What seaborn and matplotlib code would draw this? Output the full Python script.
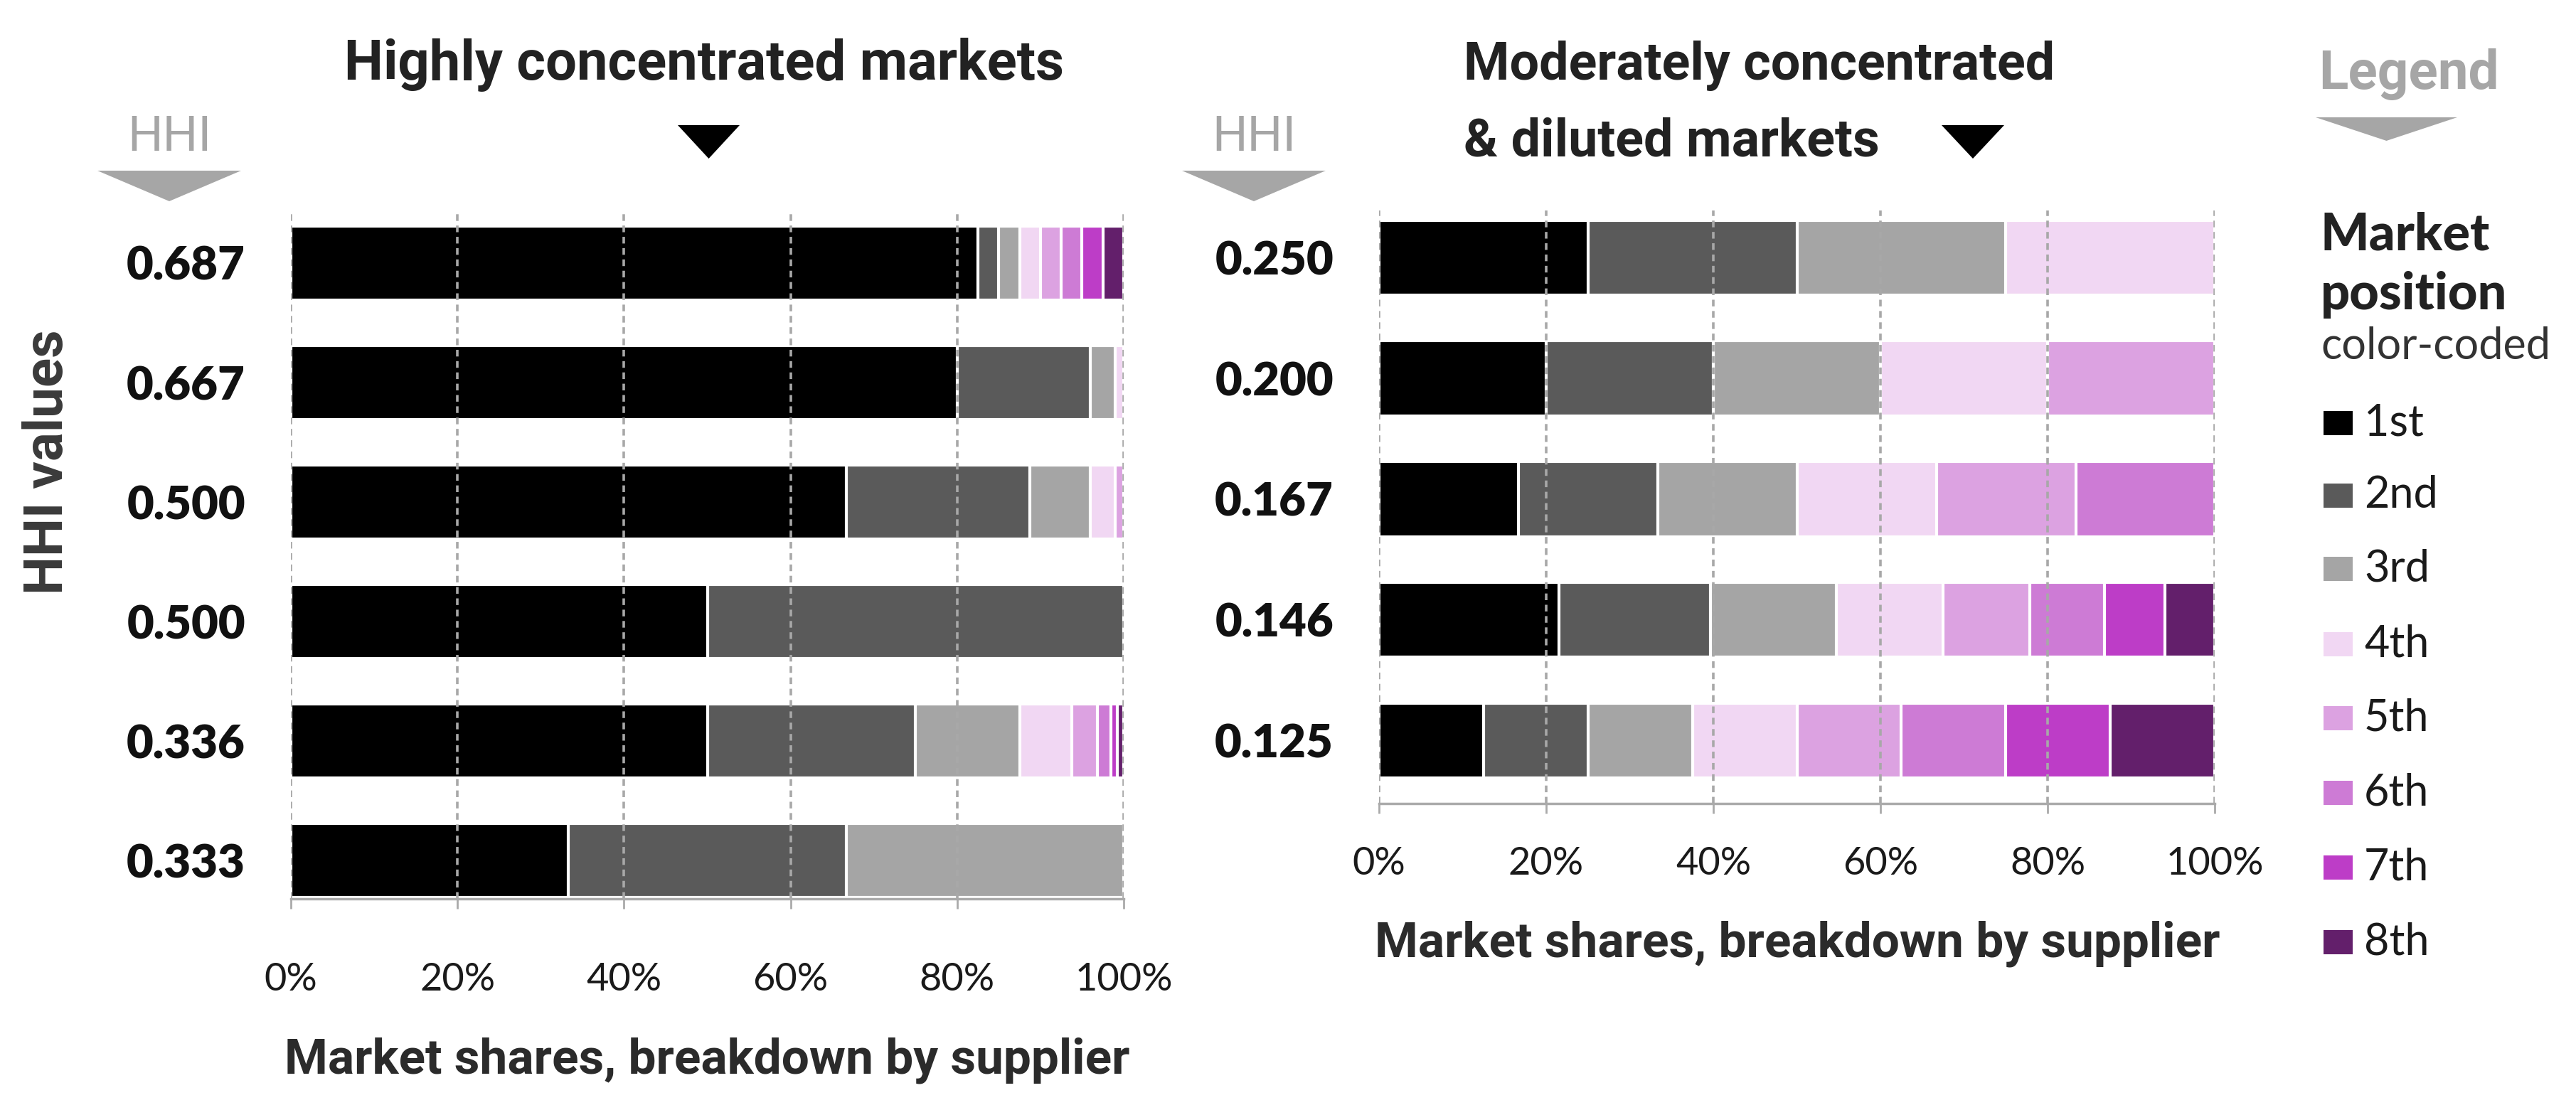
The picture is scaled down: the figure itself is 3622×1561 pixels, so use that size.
import numpy as np
import pandas as pd
import matplotlib
matplotlib.use("Agg")
import matplotlib.pyplot as plt
from matplotlib.patches import Polygon, Rectangle
import seaborn as sns

# ---------------- data ----------------
positions = ["1st", "2nd", "3rd", "4th", "5th", "6th", "7th", "8th"]
position_colors = ["#000000", "#5a5a5a", "#a5a5a5", "#f1d7f3",
                   "#dca2e1", "#cd7bd5", "#bd3dc7", "#631f6b"]

left_hhi = ["0.687", "0.667", "0.500", "0.500", "0.336", "0.333"]
left_row1 = [82.5, 2.5, 2.5, 2.5, 2.5, 2.5, 2.5, 2.5]
left_row2 = [80.0, 16.0, 3.0, 1.0, 0, 0, 0, 0]
left_row3 = [66.7, 22.0, 7.3, 3.0, 1.0, 0, 0, 0]
left_row4 = [50.0, 50.0, 0, 0, 0, 0, 0, 0]
left_row5 = [50.0, 25.0, 12.5, 6.25, 3.1, 1.6, 0.8, 0.75]
left_row6 = [33.3, 33.4, 33.3, 0, 0, 0, 0, 0]

right_hhi = ["0.250", "0.200", "0.167", "0.146", "0.125"]
right_row1 = [25.0, 25.0, 25.0, 25.0, 0, 0, 0, 0]
right_row2 = [20.0, 20.0, 20.0, 20.0, 20.0, 0, 0, 0]
right_row3 = [16.7, 16.7, 16.6, 16.7, 16.7, 16.6, 0, 0]
right_row4 = [21.5, 18.2, 15.0, 12.8, 10.4, 8.9, 7.2, 6.0]
right_row5 = [12.5, 12.5, 12.5, 12.5, 12.5, 12.5, 12.5, 12.5]

x_ticks = [0, 20, 40, 60, 80, 100]
x_ticklabels = ["0%", "20%", "40%", "60%", "80%", "100%"]

# ---------------- style ----------------
sns.set_theme(style="white")
plt.rcParams["font.family"] = ["Lato", "DejaVu Sans"]
COND = ["Roboto", "DejaVu Sans"]

W, H = 3622, 1561
fig = plt.figure(figsize=(W / 100, H / 100), dpi=100)
fig.patch.set_facecolor("white")


def fx(px):
    return px / W


def fy(py):
    return 1 - py / H


def draw_panel(ax, hhi, rows, ylim, label_pad):
    arr = np.array(rows, dtype=float)
    cum = arr.cumsum(axis=1)
    ids = [f"r{i}" for i in range(len(hhi))]
    for k in range(len(positions) - 1, -1, -1):
        df = pd.DataFrame({"row": ids, "share": cum[:, k]})
        sns.barplot(data=df, x="share", y="row", order=ids, orient="h",
                    color=position_colors[k], saturation=1, width=0.62,
                    edgecolor="white", linewidth=3, errorbar=None, ax=ax,
                    zorder=2)
    ax.set_xlim(0, 100)
    ax.set_ylim(*ylim)
    for v in x_ticks:
        ax.axvline(v, color="#a8a8a8", lw=2.6, ls=(0, (2.6, 1.8)), zorder=5)
    ax.set_xticks(x_ticks)
    ax.set_xticklabels(x_ticklabels, fontsize=39, color="#1a1a1a")
    ax.set_yticks(range(len(hhi)))
    ax.set_yticklabels(hhi, fontsize=47, fontweight="heavy", color="#111111")
    ax.tick_params(axis="y", length=0, pad=46)
    ax.tick_params(axis="x", length=10, width=2, color="#aaaaaa",
                   pad=label_pad, bottom=True)
    for s in ["top", "right", "left"]:
        ax.spines[s].set_visible(False)
    ax.spines["bottom"].set_color("#aaaaaa")
    ax.spines["bottom"].set_linewidth(2.5)
    ax.spines["bottom"].set_zorder(6)
    ax.set_xlabel("")
    ax.set_ylabel("")
    ax.grid(False)


# left panel
axL = fig.add_axes([fx(409), fy(1264), fx(1580) - fx(409), (1264 - 296) / H])
draw_panel(axL, left_hhi,
           [left_row1, left_row2, left_row3, left_row4, left_row5, left_row6],
           (5.32, -0.44), 54)

# right panel
axR = fig.add_axes([fx(1939), fy(1130), fx(3114) - fx(1939), (1130 - 296) / H])
draw_panel(axR, right_hhi,
           [right_row1, right_row2, right_row3, right_row4, right_row5],
           (4.52, -0.39), 33)

# x labels
for cx, base in ((994, 1510), (2527, 1345)):
    fig.text(fx(cx), fy(base), "Market shares, breakdown by supplier",
             ha="center", va="baseline", fontsize=50, fontweight="bold",
             family=COND, color="#2b2b2b")

# y label
fig.text(fx(68), fy(650), "HHI values", rotation=90, ha="center", va="center",
         fontsize=55, fontweight="bold", family=COND, color="#3a3a3a")

# titles
fig.text(fx(990), fy(112), "Highly concentrated markets", ha="center",
         va="baseline", fontsize=56, fontweight="bold", family=COND,
         color="#222222")
fig.text(fx(2058), fy(112), "Moderately concentrated", ha="left",
         va="baseline", fontsize=53, fontweight="bold", family=COND,
         color="#222222")
fig.text(fx(2058), fy(220), "& diluted markets", ha="left",
         va="baseline", fontsize=53, fontweight="bold", family=COND,
         color="#222222")


def tri(x0, x1, y0, y1, color):
    xm = (x0 + x1) / 2
    p = Polygon([[fx(x0), fy(y0)], [fx(x1), fy(y0)], [fx(xm), fy(y1)]],
                closed=True, transform=fig.transFigure, facecolor=color,
                edgecolor="none")
    fig.patches.append(p)


tri(953, 1040, 176, 223, "#000000")
tri(2730, 2818, 176, 223, "#000000")

# HHI headers
for cx in (238, 1763):
    fig.text(fx(cx), fy(212), "HHI", ha="center", va="baseline", fontsize=50,
             fontweight="normal", family=COND, color="#a6a6a6")
    tri(cx - 101, cx + 101, 240, 283, "#a6a6a6")

# legend
fig.text(fx(3260), fy(125), "Legend", ha="left", va="baseline", fontsize=55,
         fontweight="bold", family=COND, color="#a6a6a6")
tri(3256, 3455, 165, 198, "#a6a6a6")
fig.text(fx(3263), fy(352), "Market", ha="left", va="baseline", fontsize=52,
         fontweight="black", color="#222222")
fig.text(fx(3263), fy(435), "position", ha="left", va="baseline", fontsize=52,
         fontweight="black", color="#222222")
fig.text(fx(3263), fy(505), "color-coded", ha="left", va="baseline",
         fontsize=44, color="#333333")
item_y = [595, 697, 800, 906, 1010, 1115, 1220, 1325]
for name, col, yc in zip(positions, position_colors, item_y):
    r = Rectangle((fx(3267), fy(yc + 17)), fx(3308) - fx(3267), 34 / H,
                  transform=fig.transFigure, facecolor=col, edgecolor="none")
    fig.patches.append(r)
    fig.text(fx(3324), fy(yc), name, ha="left", va="center", fontsize=44,
             color="#1a1a1a")

fig.savefig("out.png", dpi=100, facecolor="white")
